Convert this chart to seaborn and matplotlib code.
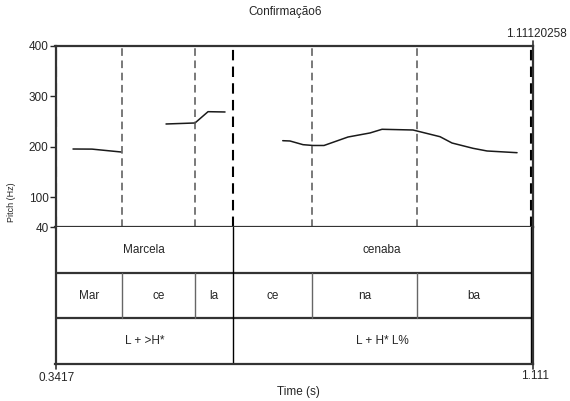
import pandas as pd
import seaborn as sns
import matplotlib.pyplot as plt

# pitch contour (time in s, f0 in Hz)
seg_ids = [1, 1, 1,
           2, 2, 2, 2,
           3, 3, 3, 3, 3, 3, 3, 3, 3, 3, 3, 3, 3, 3]
times = [0.3699, 0.4005, 0.4473,
         0.5198, 0.5665, 0.5875, 0.6149,
         0.7079, 0.7196, 0.7406, 0.7567, 0.7744, 0.8131, 0.8485, 0.8679,
         0.9178, 0.9614, 0.9807, 1.0145, 1.0371, 1.0855]
pitch = [195.2, 195.0, 189.3,
         244.8, 246.8, 269.2, 268.6,
         211.7, 211.1, 203.8, 202.2, 202.2, 219.0, 227.0, 234.3,
         232.9, 219.6, 207.1, 196.6, 191.3, 187.9]

t_start, t_end = 0.3417, 1.11120258

# TextGrid tiers
word_bounds = [0.6278, 1.108]
words = ["Marcela", "cenaba"]
syll_bounds = [0.4489, 0.5665, 0.6278, 0.7551, 0.9235, 1.108]
sylls = ["Mar", "ce", "la", "ce", "na", "ba"]
tone_bounds = [0.6278, 1.108]
tones = ["L + >H*", "L + H* L%"]

sns.set_style("white")
plt.rcParams['font.family'] = ['Liberation Sans', 'DejaVu Sans']

fig = plt.figure(figsize=(5.70, 4.01), dpi=100)
left, width = 55.5 / 570, 477.5 / 570
ax = fig.add_axes([left, 1 - 227.3 / 401, width, 181.6 / 401])
axt = fig.add_axes([left, 1 - 364 / 401, width, 136.7 / 401], sharex=ax)

df = pd.DataFrame({"t": times, "f0": pitch, "seg": seg_ids})
sns.lineplot(data=df, x="t", y="f0", units="seg", estimator=None,
             color="#1a1a1a", lw=1.1, ax=ax, legend=False)

# boundary dashes through the pitch panel
syll_only = [b for b in syll_bounds if b not in word_bounds]
for b in syll_only:
    ax.axvline(b, color="#555555", lw=1.1, ls=(0, (5, 3)))
for b in [t_start + 0.0015] + word_bounds:
    ax.axvline(b, color="black", lw=1.5, ls=(0, (5, 3)))

ax.set_xlim(t_start, t_end)
ax.set_ylim(40, 400)
ax.set_yticks([40, 100, 200, 300, 400])
ax.tick_params(axis="y", direction="out", length=4, width=1, labelsize=8.5, pad=1, left=True)
ax.tick_params(axis="x", bottom=False, labelbottom=False)
ax.set_xlabel("")
ax.set_ylabel("")
for s in ax.spines.values():
    s.set_color("#333333")
    s.set_linewidth(1.6)

# tiers
axt.set_ylim(0, 3)
axt.set_yticks([])
axt.tick_params(axis="x", bottom=False, labelbottom=False)
for y in [1, 2]:
    axt.axhline(y, color="#333333", lw=1.6)


def draw_tier(bounds, labels, row, color_fn):
    edges = [t_start] + bounds
    for b in bounds:
        axt.plot([b, b], [row, row + 1], color=color_fn(b), lw=1.0)
    for i, lab in enumerate(labels):
        axt.text((edges[i] + edges[i + 1]) / 2, row + 0.5, lab,
                 ha="center", va="center", fontsize=8.5)


draw_tier(word_bounds, words, 2, lambda b: "black")
draw_tier(syll_bounds, sylls, 1, lambda b: "black" if b in word_bounds else "#666666")
draw_tier(tone_bounds, tones, 0, lambda b: "black")
for s in axt.spines.values():
    s.set_color("#333333")
    s.set_linewidth(1.6)
axt.spines["top"].set_visible(False)

fig.text(285 / 570, 1 - 12 / 401, "Confirmação6", ha="center", va="center", fontsize=8.5)
fig.text(567 / 570, 1 - 34 / 401, "1.11120258", ha="right", va="center", fontsize=8.5)
fig.text(57 / 570, 1 - 378 / 401, "0.3417", ha="center", va="center", fontsize=8.5)
fig.text(535 / 570, 1 - 376 / 401, "1.111", ha="center", va="center", fontsize=8.5)
fig.text(298 / 570, 1 - 392 / 401, "Time (s)", ha="center", va="center", fontsize=8.5)
fig.text(12 / 570, 1 - 202 / 401, "Pitch (Hz)", ha="center", va="center",
         rotation=90, fontsize=6.5)

# small end ticks
fig.add_artist(plt.Line2D([left, left], [1 - 364 / 401, 1 - 369 / 401], color="#333333", lw=1.2))
fig.add_artist(plt.Line2D([533 / 570, 533 / 570], [1 - 364 / 401, 1 - 369 / 401], color="#333333", lw=1.2))
fig.add_artist(plt.Line2D([533 / 570, 533 / 570], [1 - 45.7 / 401, 1 - 41 / 401], color="#333333", lw=1.2))

fig.savefig("out.png", dpi=100)
